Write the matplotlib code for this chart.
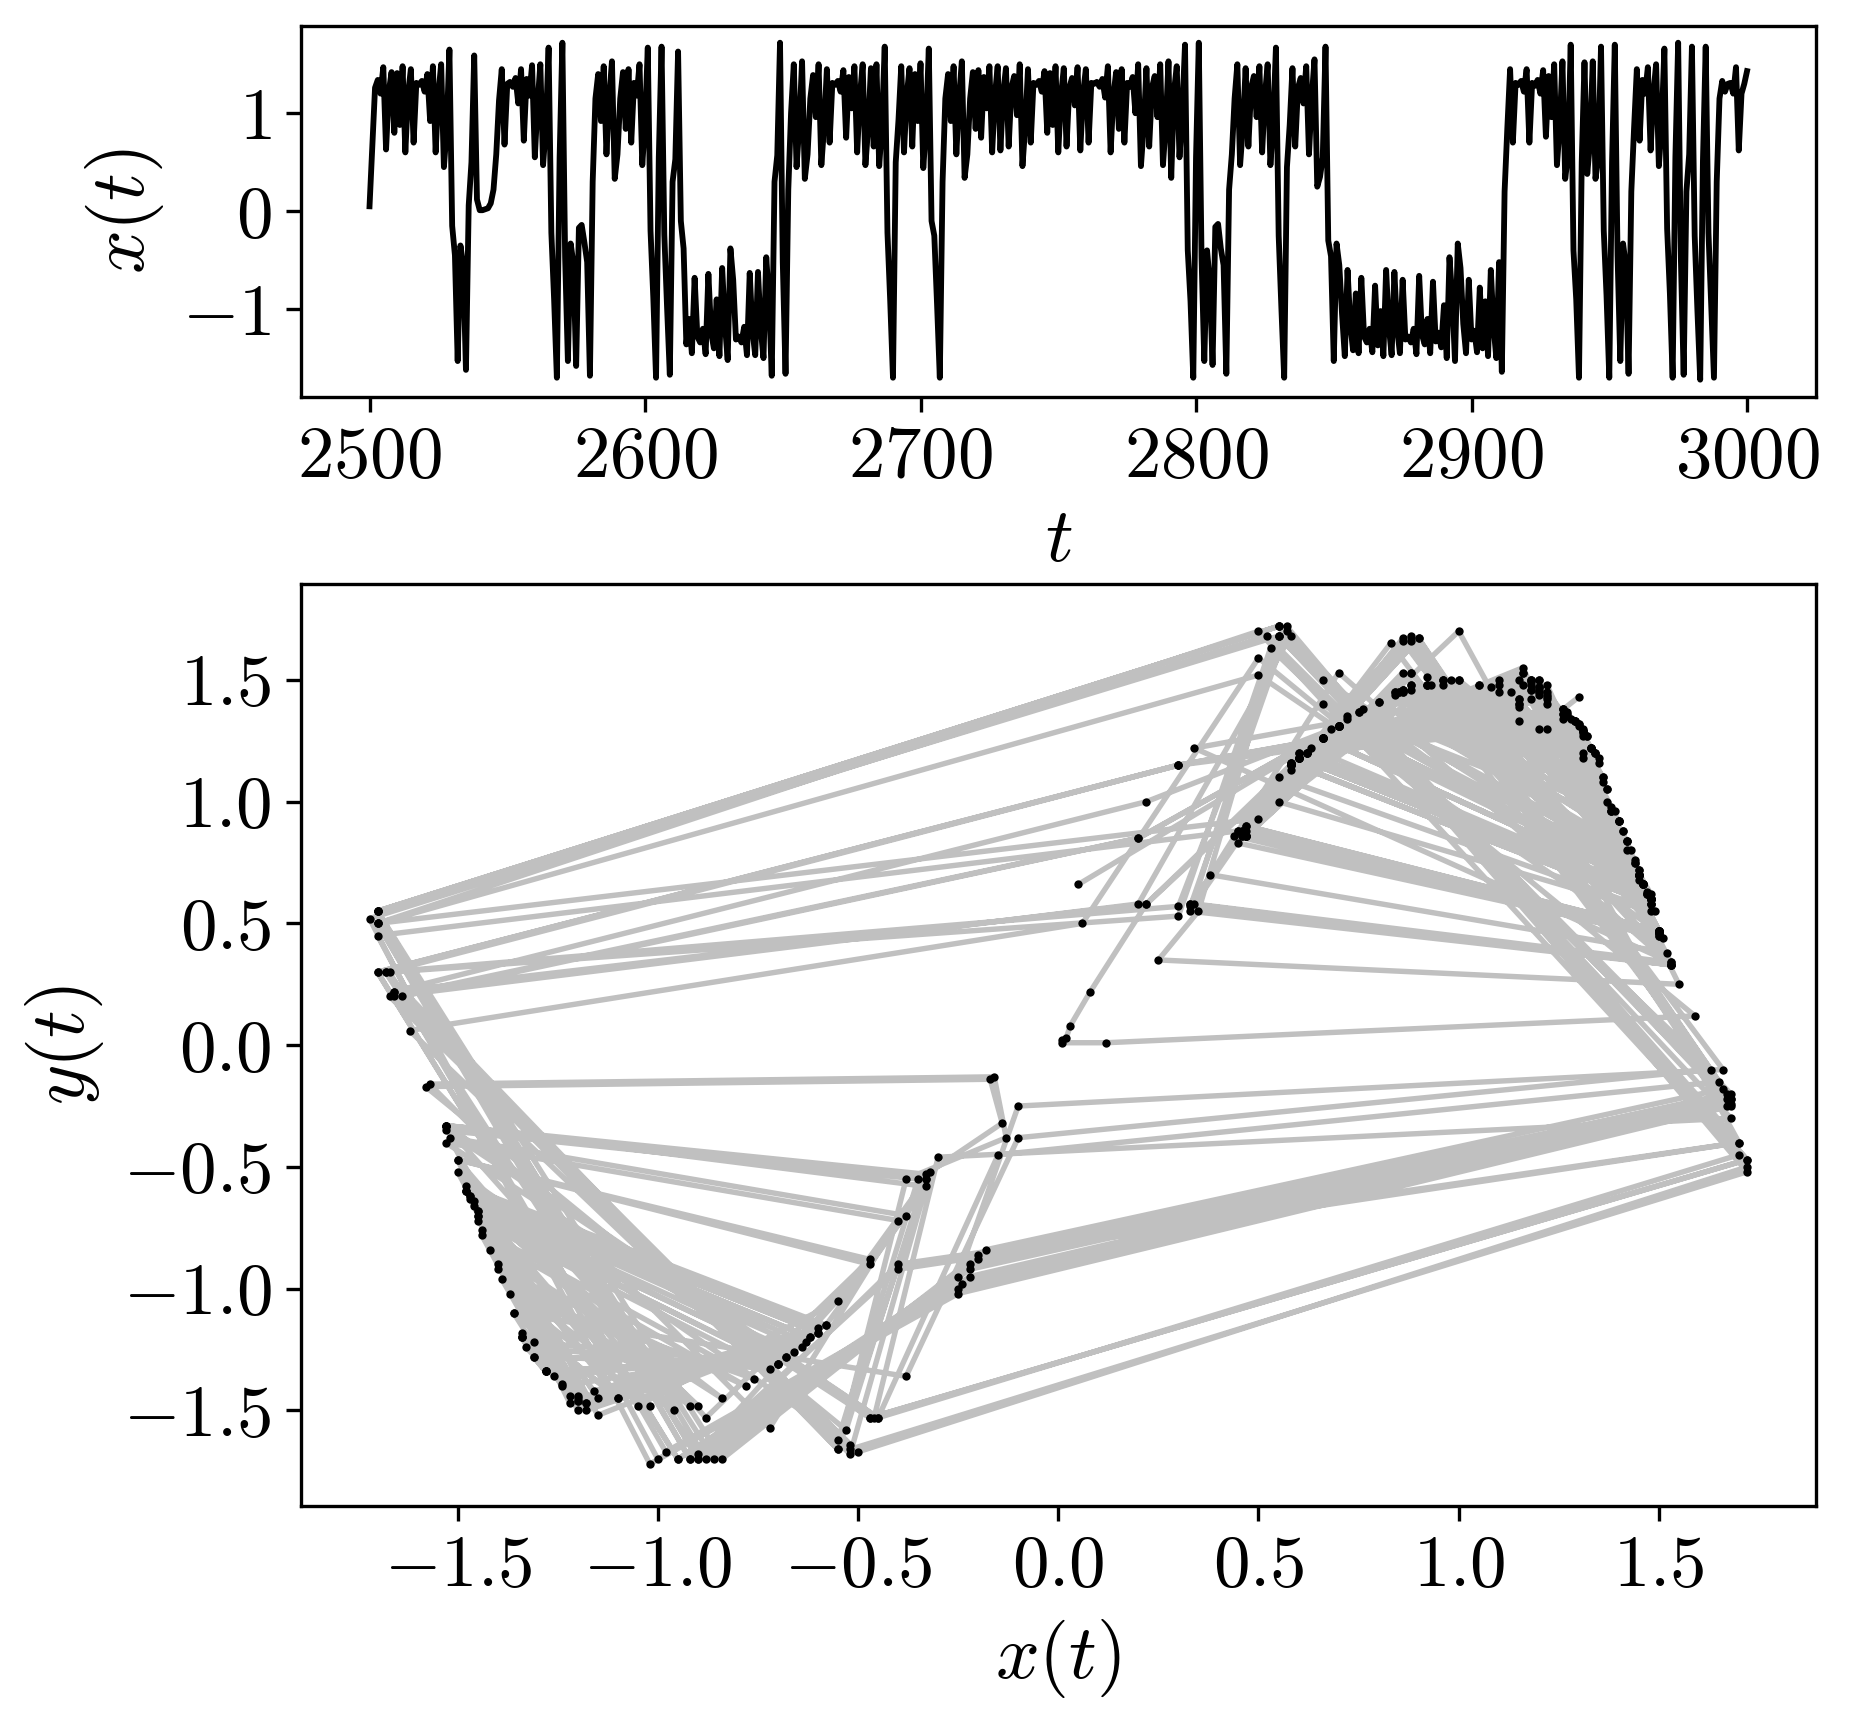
import matplotlib
matplotlib.use("Agg")
import matplotlib.pyplot as plt
import numpy as np

# x(t), t = 2500 ... 3000 (one row per 10 steps)
x_t = [
    0.05, 0.66, 1.26, 1.34, 1.20, 1.47, 0.63, 1.22, 1.42, 0.80,
    1.41, 0.88, 1.48, 0.60, 1.20, 1.45, 0.70, 1.31, 1.29, 1.33,
    1.22, 1.40, 0.92, 1.48, 0.60, 1.20, 1.50, 0.45, 0.83, 1.65,
    -0.15, -0.45, -1.53, -0.35, -0.55, -1.62, 0.06, 0.50, 1.59, 0.12,
    0.01, 0.01, 0.02, 0.03, 0.08, 0.22, 0.58, 1.13, 1.45, 0.68,
    1.30, 1.32, 1.27, 1.36, 1.10, 1.45, 0.72, 1.35, 1.18, 1.49,
    0.55, 1.10, 1.50, 0.47, 0.86, 1.67, -0.22, -0.90, -1.70, 0.55,
    1.72, -0.47, -1.53, -0.33, -0.53, -1.58, -0.17, -0.14, -0.32, -0.52,
    -1.68, 0.30, 1.15, 1.40, 0.92, 1.48, 0.58, 1.16, 1.53, 0.33,
    0.58, 1.15, 1.42, 0.84, 1.45, 0.70, 1.31, 1.18, 1.50, 0.47,
    0.90, 1.67, -0.20, -0.88, -1.70, 0.55, 1.68, -0.24, -0.98, -1.67,
    0.30, 0.53, 1.63, -0.10, -0.38, -1.36, -1.10, -1.45, -0.68, -1.28,
    -1.34, -1.20, -1.46, -0.64, -1.24, -1.40, -0.90, -1.48, -0.58, -1.15,
    -1.52, -0.38, -0.70, -1.31, -1.28, -1.34, -1.18, -1.47, -0.63, -1.22,
    -1.47, -0.62, -1.20, -1.50, -0.47, -0.90, -1.68, 0.30, 0.57, 1.72,
    -0.52, -1.66, 0.22, 1.00, 1.50, 0.45, 0.88, 1.53, 0.33, 0.58,
    1.15, 1.39, 0.96, 1.50, 0.47, 0.86, 1.45, 0.70, 1.31, 1.29,
    1.33, 1.22, 1.44, 0.75, 1.37, 1.05, 1.48, 0.60, 1.18, 1.50,
    0.47, 0.86, 1.46, 0.66, 1.50, 0.46, 0.88, 1.68, -0.22, -0.92,
    -1.70, 0.50, 0.93, 1.48, 0.60, 1.18, 1.46, 0.66, 1.40, 0.92,
    1.51, 0.44, 0.86, 1.66, -0.10, -0.25, -0.95, -1.70, 0.30, 1.15,
    1.40, 0.92, 1.48, 0.58, 1.16, 1.53, 0.34, 0.58, 1.15, 1.42,
    0.84, 1.44, 0.75, 1.37, 1.05, 1.48, 0.60, 1.18, 1.48, 0.62,
    1.20, 1.46, 0.66, 1.26, 1.38, 0.98, 1.50, 0.46, 0.86, 1.45,
    0.70, 1.31, 1.29, 1.33, 1.22, 1.43, 0.80, 1.41, 0.88, 1.48,
    0.60, 1.18, 1.46, 0.66, 1.26, 1.36, 1.08, 1.47, 0.62, 1.20,
    1.45, 0.70, 1.31, 1.30, 1.32, 1.27, 1.35, 1.16, 1.48, 0.60,
    1.18, 1.42, 0.84, 1.45, 0.70, 1.31, 1.27, 1.37, 1.00, 1.50,
    0.46, 0.86, 1.46, 0.66, 1.26, 1.38, 0.96, 1.50, 0.47, 0.88,
    1.53, 0.34, 1.22, 1.48, 0.55, 1.00, 1.70, -0.40, -0.92, -1.70,
    0.55, 1.72, -0.47, -1.53, -0.40, -0.72, -1.57, -0.16, -0.13, -0.38,
    -0.55, -1.66, 0.22, 0.58, 1.15, 1.50, 0.47, 0.86, 1.46, 0.66,
    1.26, 1.38, 0.96, 1.48, 0.60, 1.18, 1.50, 0.47, 0.90, 1.67,
    -0.25, -1.00, -1.70, 0.45, 0.88, 1.46, 0.66, 1.26, 1.36, 1.10,
    1.48, 0.58, 1.16, 1.55, 0.25, 0.35, 0.55, 1.68, -0.30, -0.46,
    -1.53, -0.33, -0.55, -1.05, -1.48, -0.60, -1.16, -1.42, -0.84, -1.45,
    -0.68, -1.28, -1.34, -1.20, -1.44, -0.76, -1.37, -1.02, -1.48, -0.60,
    -1.18, -1.47, -0.62, -1.20, -1.45, -0.70, -1.31, -1.28, -1.34, -1.20,
    -1.46, -0.66, -1.26, -1.36, -1.10, -1.45, -0.72, -1.33, -1.24, -1.39,
    -0.96, -1.50, -0.47, -0.88, -1.53, -0.33, -0.58, -1.15, -1.45, -0.70,
    -1.31, -1.22, -1.44, -0.78, -1.40, -0.92, -1.48, -0.60, -1.18, -1.50,
    -0.52, -1.64, 0.20, 0.85, 1.45, 0.70, 1.31, 1.29, 1.33, 1.22,
    1.45, 0.70, 1.31, 1.28, 1.34, 1.20, 1.44, 0.76, 1.38, 0.96,
    1.50, 0.47, 0.86, 1.53, 0.33, 0.57, 1.70, -0.40, -0.90, -1.70,
    0.50, 1.52, 0.38, 0.70, 1.53, 0.33, 0.55, 1.68, -0.20, -0.86,
    -1.70, 0.50, 1.70, -0.45, -1.53, -0.33, -0.55, -1.66, 0.20, 0.85,
    1.45, 0.72, 1.34, 1.20, 1.47, 0.62, 1.20, 1.50, 0.46, 0.88,
    1.66, -0.18, -0.84, -1.70, 0.55, 1.72, -0.50, -1.67, 0.20, 0.58,
    1.68, -0.25, -1.02, -1.72, 0.52, 1.68, -0.22, -0.95, -1.70, 0.30,
    1.15, 1.33, 1.22, 1.30, 1.31, 1.20, 1.47, 0.62, 1.20, 1.30,
    1.43,
]
t_start = 2500
t_ticks = [2500, 2600, 2700, 2800, 2900, 3000]
x_ticks_top = [-1, 0, 1]
phase_ticks = [-1.5, -1.0, -0.5, 0.0, 0.5, 1.0, 1.5]

assert len(x_t) == 501

plt.rcParams["mathtext.fontset"] = "cm"
plt.rcParams["font.family"] = "serif"
plt.rcParams["font.serif"] = ["cmr10", "DejaVu Serif"]
plt.rcParams["axes.formatter.use_mathtext"] = True
plt.rcParams["axes.unicode_minus"] = True
plt.rcParams["font.size"] = 17.5

x = np.array(x_t)
t = np.arange(t_start, t_start + len(x))

# delay coordinates: y(t) is the next value of the series
px = x[:-1]
py = x[1:]

fig = plt.figure(figsize=(1849 / 300, 1724 / 300), dpi=300)

ax1 = fig.add_axes([0.1626, 0.770, 0.8195, 0.215])
ax1.plot(t, x, color="black", lw=1.4)
ax1.set_xticks(t_ticks)
ax1.set_yticks(x_ticks_top)
ax1.set_xlabel(r"$t$", fontsize=18.5)
ax1.set_ylabel(r"$x(t)$", fontsize=18.5)

ax2 = fig.add_axes([0.1626, 0.1265, 0.8195, 0.5345])
ax2.plot(px, py, color="#c0c0c0", lw=1.3, zorder=1)
ax2.plot(px, py, "o", color="black", ms=2.0, mew=0, zorder=2)
ax2.set_xticks(phase_ticks)
ax2.set_yticks(phase_ticks)
ax2.set_xlabel(r"$x(t)$", fontsize=18.5)
ax2.set_ylabel(r"$y(t)$", fontsize=18.5)

fig.savefig("out.png", dpi=300)
